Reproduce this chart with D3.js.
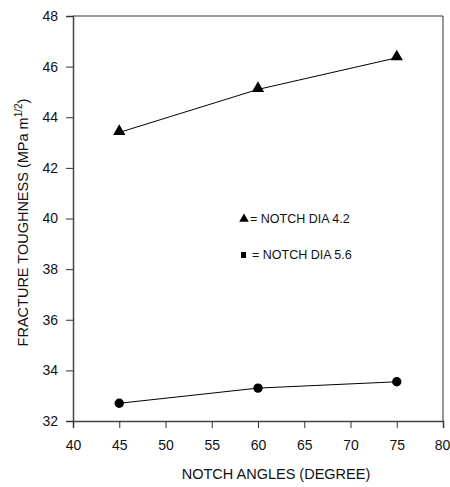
<!DOCTYPE html>
<html>
<head>
<meta charset="utf-8">
<script src="https://cdn.jsdelivr.net/npm/d3@7"></script>
<style>
  body { margin: 0; background: #fff; }
  text { font-family: "Liberation Sans", Arial, sans-serif; fill: #111; }
</style>
</head>
<body>
<div id="chart"></div>
<script>
// notch angles (degree)
const angles = [45, 60, 75];
// fracture toughness for each notch diameter
const dia42 = [43.4, 45.1, 46.35];
const dia56 = [32.7, 33.3, 33.55];
const xTicks = [40, 45, 50, 55, 60, 65, 70, 75, 80];
const yTicks = [32, 34, 36, 38, 40, 42, 44, 46, 48];
const legendLabels = ['= NOTCH DIA 4.2', '= NOTCH DIA 5.6'];

const width = 450;
const height = 487;
const margin = { top: 16, right: 7, bottom: 66, left: 73 };

const svg = d3.select('#chart')
  .append('svg')
  .attr('width', width)
  .attr('height', height);

const x = d3.scaleLinear()
  .domain([40, 80])
  .range([margin.left, width - margin.right]);

const y = d3.scaleLinear()
  .domain([32, 48])
  .range([height - margin.bottom, margin.top]);

// frame (top and right)
svg.append('path')
  .attr('d', 'M' + x(40) + ',' + y(48) + 'H' + x(80) + 'V' + y(32))
  .attr('fill', 'none')
  .attr('stroke', '#333')
  .attr('stroke-width', 1);

let xAxis = svg.append('g')
  .attr('transform', 'translate(0,' + y(32) + ')')
  .call(d3.axisBottom(x).tickValues(xTicks).tickSize(7).tickPadding(12));

let yAxis = svg.append('g')
  .attr('transform', 'translate(' + x(40) + ',0)')
  .call(d3.axisLeft(y).tickValues(yTicks).tickSize(7).tickPadding(8));

[xAxis, yAxis].forEach(function (a) {
  a.select('.domain').attr('stroke', '#444').attr('stroke-width', 1.5);
  a.selectAll('.tick line').attr('stroke', '#333');
  a.selectAll('.tick text')
    .style('font-family', '"Liberation Sans", Arial, sans-serif')
    .style('font-size', '14px')
    .attr('fill', '#111');
});

// keep the last x label inside the window
xAxis.selectAll('.tick text')
  .filter(function (d) { return d === 80; })
  .attr('dx', -1);

// axis titles
svg.append('text')
  .attr('x', 276)
  .attr('y', 479)
  .attr('text-anchor', 'middle')
  .style('font-size', '14.5px')
  .text('NOTCH ANGLES (DEGREE)');

let yTitle = svg.append('text')
  .attr('transform', 'translate(28,' + ((y(32) + y(48)) / 2 + 4) + ') rotate(-90)')
  .attr('text-anchor', 'middle')
  .style('font-size', '14.5px');
yTitle.append('tspan').text('FRACTURE TOUGHNESS (MPa m');
yTitle.append('tspan')
  .attr('dy', -6)
  .style('font-size', '10px')
  .text('1/2');
yTitle.append('tspan')
  .attr('dy', 6)
  .text(')');

const line = d3.line()
  .x(function (d, i) { return x(angles[i]); })
  .y(function (d) { return y(d); });

[dia42, dia56].forEach(function (series) {
  svg.append('path')
    .datum(series)
    .attr('d', line)
    .attr('fill', 'none')
    .attr('stroke', '#000')
    .attr('stroke-width', 1);
});

const triangle = d3.symbol().type(d3.symbolTriangle).size(65);

svg.selectAll('.tri')
  .data(dia42)
  .enter()
  .append('path')
  .attr('class', 'tri')
  .attr('d', triangle)
  .attr('transform', function (d, i) {
    return 'translate(' + x(angles[i]) + ',' + (y(d) - 1) + ')';
  })
  .attr('fill', '#000');

svg.selectAll('.dot')
  .data(dia56)
  .enter()
  .append('circle')
  .attr('class', 'dot')
  .attr('cx', function (d, i) { return x(angles[i]); })
  .attr('cy', function (d) { return y(d); })
  .attr('r', 4.7)
  .attr('fill', '#000');

// legend
svg.append('path')
  .attr('d', d3.symbol().type(d3.symbolTriangle).size(40))
  .attr('transform', 'translate(244,219)')
  .attr('fill', '#000');
svg.append('text')
  .attr('x', 250)
  .attr('y', 223)
  .style('font-size', '12.5px')
  .text(legendLabels[0]);

svg.append('rect')
  .attr('x', 241)
  .attr('y', 252)
  .attr('width', 5)
  .attr('height', 6)
  .attr('fill', '#000');
svg.append('text')
  .attr('x', 252)
  .attr('y', 259)
  .style('font-size', '12.5px')
  .text(legendLabels[1]);
</script>
</body>
</html>
